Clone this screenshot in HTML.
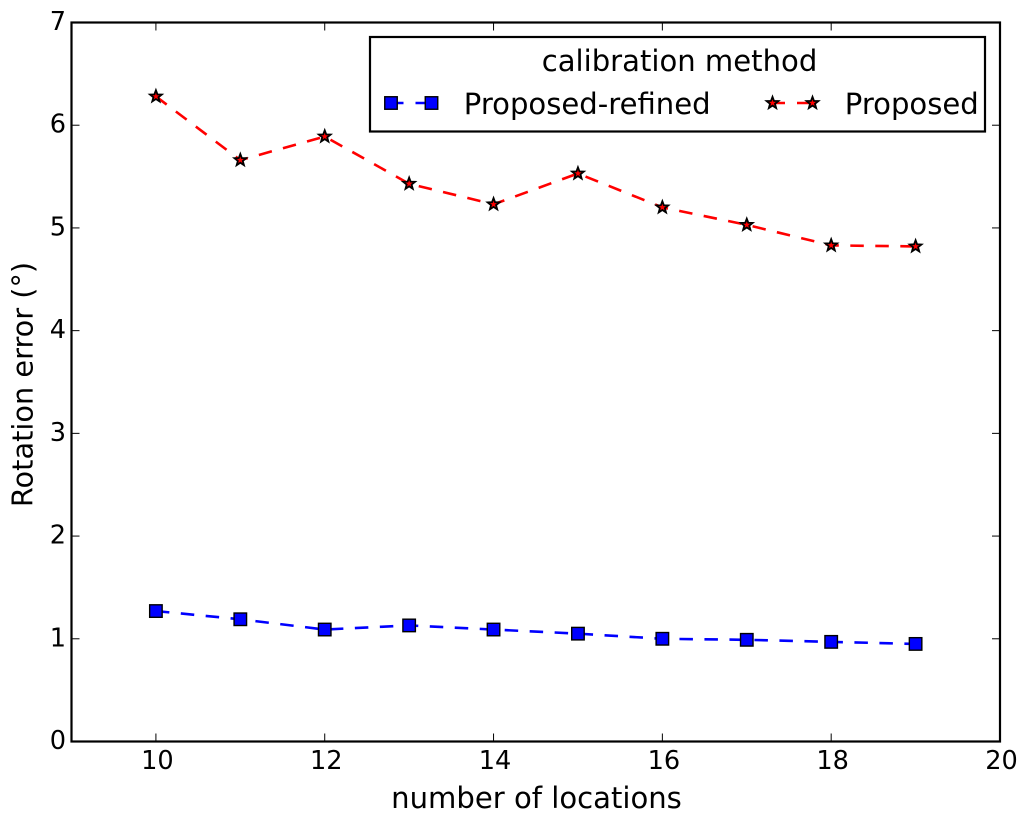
<!DOCTYPE html>
<html>
<head>
<meta charset="utf-8">
<title>Rotation error chart</title>
<style>
html,body{margin:0;padding:0;background:#fff;}
svg{display:block;}
text{font-family:"DejaVu Sans",sans-serif;font-size:25.6px;fill:#000;}
text.big{font-size:29.1px;}
</style>
</head>
<body>
<svg id="chart" xmlns="http://www.w3.org/2000/svg" width="1024" height="820" viewBox="0 0 1024 820">
  <rect x="71.5" y="22.5" width="928.5" height="719" fill="#fff"/>
  <g id="ticks"></g>
  <g id="series"></g>
  <rect x="71.5" y="22.5" width="928.5" height="719" fill="none" stroke="#000" stroke-width="2.2"/>
  <text class="big" x="536.5" y="808" text-anchor="middle">number of locations</text>
  <text class="big" style="font-size:28.8px" transform="translate(32.5,384.5) rotate(-90)" text-anchor="middle">Rotation error (°)</text>
  <g>
    <rect x="370" y="37" width="615" height="94.5" fill="#fff" stroke="#000" stroke-width="2.2"/>
    <text class="big" x="679.5" y="70.8" text-anchor="middle">calibration method</text>
    <g id="legend-handles"></g>
    <text class="big" x="463.8" y="113.8">Proposed-refined</text>
    <text class="big" x="844.8" y="113.8">Proposed</text>
  </g>
</svg>
<script>
const locations = [10, 11, 12, 13, 14, 15, 16, 17, 18, 19];
const refinedErrors = [1.27, 1.19, 1.09, 1.13, 1.09, 1.05, 1.00, 0.99, 0.97, 0.95];
const proposedErrors = [6.28, 5.66, 5.89, 5.43, 5.23, 5.53, 5.20, 5.03, 4.83, 4.82];
const xTickLabels = [10, 12, 14, 16, 18, 20];
const yTickLabels = [0, 1, 2, 3, 4, 5, 6, 7];

const NS = 'http://www.w3.org/2000/svg';
const xMin = 9, xMax = 20, yMin = 0, yMax = 7;
const left = 71.5, right = 1000, top_ = 22.5, bottom = 741.5;
function xScale(v) { return left + (v - xMin) / (xMax - xMin) * (right - left); }
function yScale(v) { return bottom - (v - yMin) / (yMax - yMin) * (bottom - top_); }

function make(tag, attrs, parent) {
  const el = document.createElementNS(NS, tag);
  for (const k in attrs) el.setAttribute(k, attrs[k]);
  parent.appendChild(el);
  return el;
}
function starPoints(cx, cy, R) {
  const r = R * 0.42, pts = [];
  for (let i = 0; i < 10; i++) {
    const a = -Math.PI / 2 + i * Math.PI / 5;
    const rad = i % 2 ? r : R;
    pts.push((cx + rad * Math.cos(a)).toFixed(2) + ',' + (cy + rad * Math.sin(a)).toFixed(2));
  }
  return pts.join(' ');
}
function drawSquare(cx, cy, parent) {
  const el = make('rect', {x: cx - 6.25, y: cy - 6.25, width: 12.5, height: 12.5, fill: '#0000ff', stroke: '#000', 'stroke-width': 1.4}, parent);
  
  
}
function drawStar(cx, cy, parent) {
  const el = make('polygon', {points: starPoints(cx, cy, 6.2), fill: '#ff0000', stroke: '#000', 'stroke-width': 1.8}, parent);
  
  
}

const ticksG = document.getElementById('ticks');
xTickLabels.forEach(function (t) {
  const x = xScale(t);
  const b = make('line', {x1: x, x2: x, y1: bottom, y2: bottom - 8, stroke: '#000', 'stroke-width': 1}, ticksG);
  
  
  const a = make('line', {x1: x, x2: x, y1: top_, y2: top_ + 8, stroke: '#000', 'stroke-width': 1}, ticksG);
  
  
  const label = make('text', {x: x + 1.5, y: 769, 'text-anchor': 'middle'}, ticksG);
  
  
  label.textContent = t;
});
yTickLabels.forEach(function (t) {
  const y = yScale(t);
  const l = make('line', {x1: left, x2: left + 8, y1: y, y2: y, stroke: '#000', 'stroke-width': 1}, ticksG);
  
  
  const r = make('line', {x1: right, x2: right - 8, y1: y, y2: y, stroke: '#000', 'stroke-width': 1}, ticksG);
  
  
  const label = make('text', {x: 66, y: y + 7.5, 'text-anchor': 'end'}, ticksG);
  
  
  label.textContent = t;
});

const seriesG = document.getElementById('series');
function drawSeries(values, color, name, marker) {
  const g = make('g', {}, seriesG);
  
  
  const pts = values.map(function (v, i) { return xScale(locations[i]).toFixed(2) + ',' + yScale(v).toFixed(2); }).join(' ');
  const line = make('polyline', {points: pts, fill: 'none', stroke: color, 'stroke-width': 2.6, 'stroke-dasharray': '13.5 11.5'}, g);
  
  
  values.forEach(function (v, i) { marker(xScale(locations[i]), yScale(v), g); });
}
drawSeries(refinedErrors, '#0000ff', 'proposed-refined-series', drawSquare);
drawSeries(proposedErrors, '#ff0000', 'proposed-series', drawStar);

const handles = document.getElementById('legend-handles');
function drawHandle(x1, x2, y, color, marker) {
  const line = make('line', {x1: x1, x2: x2, y1: y, y2: y, stroke: color, 'stroke-width': 2.6, 'stroke-dasharray': '12.5 12'}, handles);
  
  
  marker(x1, y, handles);
  marker(x2, y, handles);
}
drawHandle(391, 431.5, 103, '#0000ff', drawSquare);
drawHandle(772.5, 812.5, 103, '#ff0000', drawStar);
</script>
</body>
</html>
